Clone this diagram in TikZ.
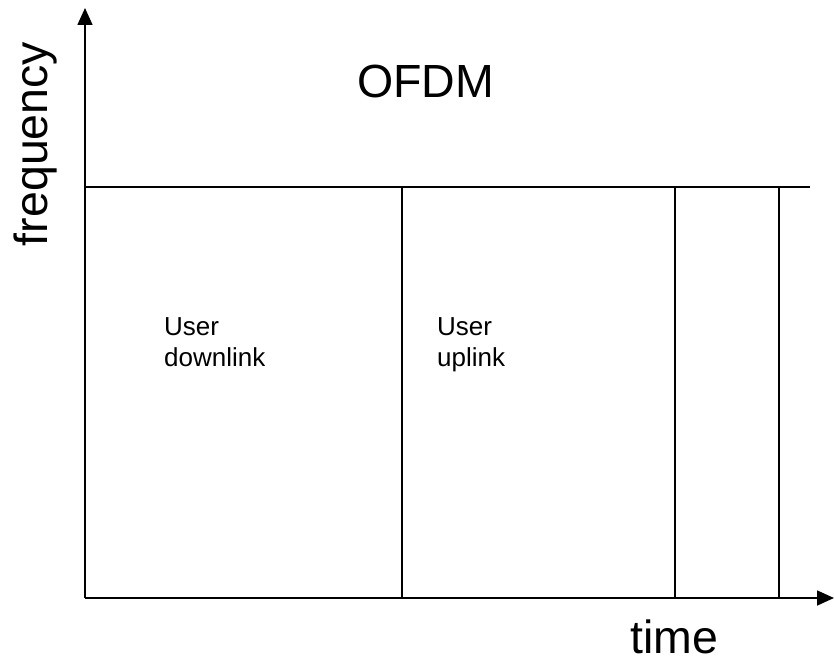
\documentclass[tikz,border=0pt]{standalone}
\usepackage{fontspec}
\setmainfont{Liberation Sans}
\usetikzlibrary{arrows.meta}
\begin{document}
\begin{tikzpicture}[x=1pt,y=-1pt,
  ln/.style={line width=1.6pt},
  ax/.style={line width=1.6pt,-{Triangle[length=17pt,width=15pt]}},
  big/.style={font=\fontsize{46.5}{46}\selectfont,inner sep=0pt},
  small/.style={font=\fontsize{26}{31}\selectfont,inner sep=0pt,align=left}]
\useasboundingbox (0,0) rectangle (834,661);
\coordinate (o) at (85,598);
\coordinate (ytip) at (85,8);
\coordinate (xtip) at (834,598);
\coordinate (tl) at (85,187);
\coordinate (tr) at (810,187);
\coordinate (a1) at (402,187); \coordinate (b1) at (402,598);
\coordinate (a2) at (675,187); \coordinate (b2) at (675,598);
\coordinate (a3) at (779,187); \coordinate (b3) at (779,598);
\draw[ax] (o) -- (ytip);
\draw[ax] (o) -- (xtip);
\draw[ln] (tl) -- (tr);
\draw[ln] (a1) -- (b1);
\draw[ln] (a2) -- (b2);
\draw[ln] (a3) -- (b3);
\node[big,anchor=base west] (ofdm) at (357,97) {OFDM};
\node[big,anchor=base west] (time) at (630,653) {time};
\node[big,anchor=base,rotate=90] (freq) at (47,144) {frequency};
\node[small,anchor=base west] (dl) at (164,366) {User\\downlink};
\node[small,anchor=base west] (ul) at (437,366) {User\\uplink};
\end{tikzpicture}
\end{document}
